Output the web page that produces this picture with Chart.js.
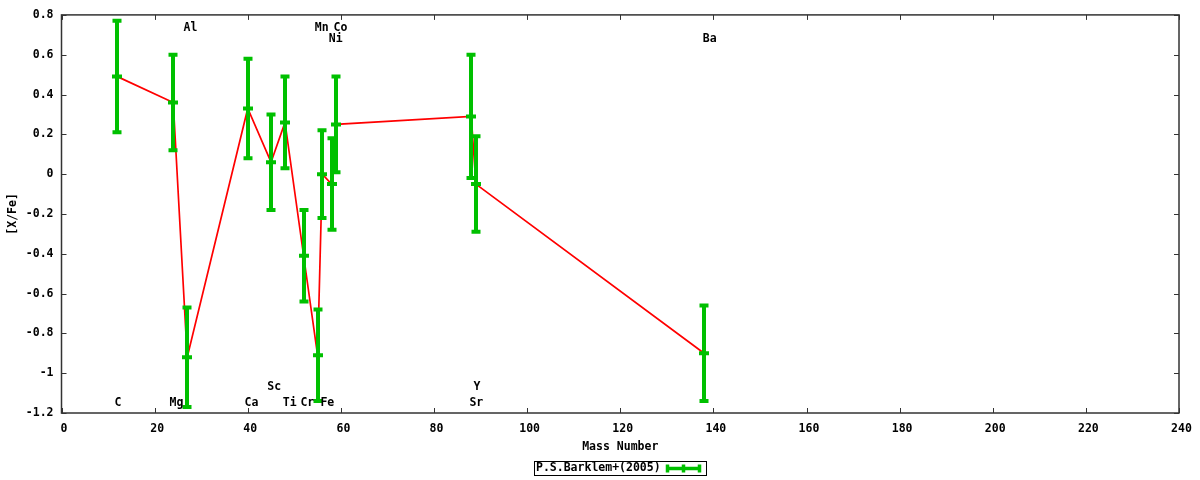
<!DOCTYPE html>
<html>
<head>
<meta charset="utf-8">
<script src="https://cdn.jsdelivr.net/npm/chart.js@4/dist/chart.umd.min.js"></script>
<style>
  html, body { margin: 0; padding: 0; background: #fff; }
  #wrap { width: 1200px; height: 480px; }
</style>
</head>
<body>
<div id="wrap"><canvas id="c" width="1200" height="480"></canvas></div>
<script>
// ---- data ----
const massNumber = [12, 24, 27, 40, 45, 48, 52, 55, 56, 58, 59, 88, 89, 138];
const xFe        = [0.49, 0.36, -0.92, 0.33, 0.06, 0.26, -0.41, -0.91, 0.00, -0.05, 0.25, 0.29, -0.05, -0.90];
const xFeErr     = [0.28, 0.24, 0.25, 0.25, 0.24, 0.23, 0.23, 0.23, 0.22, 0.23, 0.24, 0.31, 0.24, 0.24];

const elementNames = ['C', 'Mg', 'Al', 'Ca', 'Sc', 'Ti', 'Cr', 'Mn', 'Fe', 'Ni', 'Co', 'Sr', 'Y', 'Ba'];
const elementLabelX = [12.1, 24.7, 27.7, 40.8, 45.7, 49.0, 52.8, 55.9, 57.1, 58.9, 59.9, 89.1, 89.2, 139.2];
const elementLabelY = [-1.152, -1.152, 0.735, -1.152, -1.068, -1.152, -1.152, 0.735, -1.152, 0.677, 0.735, -1.152, -1.068, 0.677];

const xTickValues = [0, 20, 40, 60, 80, 100, 120, 140, 160, 180, 200, 220, 240];
const yTickValues = [0.8, 0.6, 0.4, 0.2, 0, -0.2, -0.4, -0.6, -0.8, -1, -1.2];
const seriesName = 'P.S.Barklem+(2005)';
const xTitle = 'Mass Number';
const yTitle = '[X/Fe]';

// ---- styles ----
const FONT = 'bold 11.5px "DejaVu Sans Mono", "Liberation Mono", monospace';
const GREEN = '#00c000';
const RED = '#ff0000';

const points = massNumber.map((m, i) => ({ x: m, y: xFe[i] }));

const framePlugin = {
  id: 'frame',
  afterDatasetsDraw(chart) {
    const { ctx, chartArea: a, scales: { x, y } } = chart;
    ctx.save();
    // error bars
    ctx.strokeStyle = GREEN;
    ctx.lineCap = 'butt';
    massNumber.forEach((m, i) => {
      const px = Math.round(x.getPixelForValue(m));
      const pc = y.getPixelForValue(xFe[i]);
      const pt = y.getPixelForValue(xFe[i] + xFeErr[i]);
      const pb = y.getPixelForValue(xFe[i] - xFeErr[i]);
      ctx.lineWidth = 4;
      ctx.beginPath();
      ctx.moveTo(px, pt); ctx.lineTo(px, pb);
      ctx.moveTo(px - 4.5, pt); ctx.lineTo(px + 4.5, pt);
      ctx.moveTo(px - 4.5, pb); ctx.lineTo(px + 4.5, pb);
      ctx.moveTo(px - 5, pc); ctx.lineTo(px + 5, pc);
      ctx.stroke();
    });

    // frame
    ctx.strokeStyle = '#333';
    ctx.lineWidth = 1.5;
    ctx.strokeRect(a.left, a.top, a.right - a.left, a.bottom - a.top);
    // inward ticks on all sides
    ctx.lineWidth = 1;
    ctx.beginPath();
    xTickValues.forEach(v => {
      const p = Math.round(x.getPixelForValue(v)) + 0.5;
      ctx.moveTo(p, a.bottom); ctx.lineTo(p, a.bottom - 5);
      ctx.moveTo(p, a.top); ctx.lineTo(p, a.top + 5);
    });
    yTickValues.forEach(v => {
      const p = Math.round(y.getPixelForValue(v)) + 0.5;
      ctx.moveTo(a.left, p); ctx.lineTo(a.left + 5, p);
      ctx.moveTo(a.right, p); ctx.lineTo(a.right - 5, p);
    });
    ctx.stroke();

    // element labels
    ctx.fillStyle = '#000';
    ctx.font = FONT;
    ctx.textAlign = 'center';
    ctx.textBaseline = 'middle';
    elementNames.forEach((n, i) => {
      ctx.fillText(n, x.getPixelForValue(elementLabelX[i]), y.getPixelForValue(elementLabelY[i]));
    });

    // legend box
    const bx = 534, by = 461, bw = 172, bh = 14;
    ctx.strokeStyle = '#000';
    ctx.lineWidth = 1;
    ctx.strokeRect(bx + 0.5, by + 0.5, bw, bh);
    ctx.textAlign = 'left';
    ctx.fillText(seriesName, bx + 2, by + 7);
    ctx.strokeStyle = GREEN;
    ctx.lineWidth = 3.5;
    const ly = by + 7.5, lx1 = 666, lx2 = 701;
    ctx.beginPath();
    ctx.moveTo(lx1, ly); ctx.lineTo(lx2, ly);
    ctx.moveTo(lx1 + 1.5, ly - 4); ctx.lineTo(lx1 + 1.5, ly + 4);
    ctx.moveTo(lx2 - 1.5, ly - 4); ctx.lineTo(lx2 - 1.5, ly + 4);
    ctx.moveTo((lx1 + lx2) / 2, ly - 4); ctx.lineTo((lx1 + lx2) / 2, ly + 4);
    ctx.stroke();
    ctx.restore();
  }
};

const fmt = v => {
  const r = Math.round(v * 10) / 10;
  return (Object.is(r, -0) ? 0 : r).toString();
};

const tickFont = { family: '"DejaVu Sans Mono", monospace', size: 11.5, weight: 'bold' };

new Chart(document.getElementById('c'), {
  type: 'scatter',
  data: {
    datasets: [{
      label: seriesName,
      data: points,
      showLine: true,
      borderColor: RED,
      borderWidth: 1.7,
      pointRadius: 0,
      pointHoverRadius: 0,
      tension: 0
    }]
  },
  options: {
    responsive: false,
    animation: false,
    events: [],
    layout: { padding: { top: 13, right: 21, bottom: 26, left: 0 } },
    plugins: { legend: { display: false }, tooltip: { enabled: false } },
    scales: {
      x: {
        type: 'linear', min: 0, max: 240,
        grid: { display: false, drawTicks: false },
        border: { display: false },
        afterBuildTicks: s => { s.ticks = xTickValues.map(v => ({ value: v })); },
        ticks: { color: '#000', font: tickFont, padding: 9, labelOffset: 2.5, maxRotation: 0, callback: v => String(v) },
        title: { display: true, text: xTitle, color: '#000', padding: { top: 0, bottom: 0 }, font: tickFont },
        afterFit: s => { s.height = 41; }
      },
      y: {
        type: 'linear', min: -1.2, max: 0.8,
        grid: { display: false, drawTicks: false },
        border: { display: false },
        afterBuildTicks: s => { s.ticks = yTickValues.map(v => ({ value: v })); },
        ticks: { color: '#000', font: tickFont, padding: 8, callback: v => fmt(v) },
        title: { display: true, text: yTitle, color: '#000', padding: { top: 6, bottom: 0 }, font: tickFont },
        afterFit: s => { s.width = 61.5; }
      }
    }
  },
  plugins: [framePlugin]
});
</script>
</body>
</html>
